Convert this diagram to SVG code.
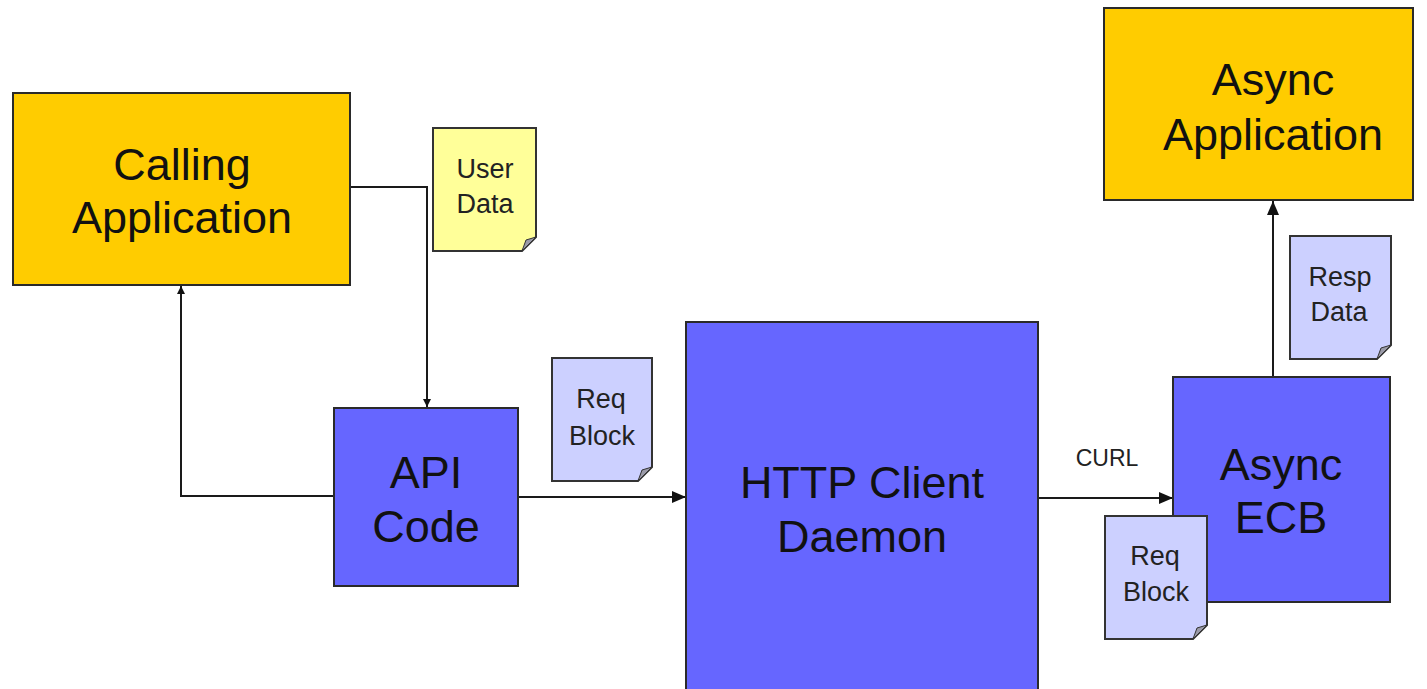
<svg xmlns="http://www.w3.org/2000/svg" width="1427" height="689" viewBox="0 0 1427 689">
<defs>
<style>
.box{stroke:#2a2a2a;stroke-width:2}
.app{fill:#FFCC00}
.blue{fill:#6666FF}
.note{stroke:#333;stroke-width:2}
.yel{fill:#FFFF99}
.lav{fill:#CCD0FF}
.fold{fill:#9a9aa8;stroke:#333;stroke-width:1}
.big{font-family:"Liberation Sans",Arial,sans-serif;font-size:45px;fill:#111;text-anchor:middle}
.small{font-family:"Liberation Sans",Arial,sans-serif;font-size:27px;fill:#222;text-anchor:middle}
.lbl{font-family:"Liberation Sans",Arial,sans-serif;font-size:23px;fill:#222;text-anchor:middle}
.conn{fill:none;stroke:#1a1a1a;stroke-width:2}
</style>
<marker id="ah" markerWidth="14" markerHeight="12" refX="14" refY="6" orient="auto" markerUnits="userSpaceOnUse">
<path d="M0,0 L14,6 L0,12 Z" fill="#111"/>
</marker>
<marker id="ahs" markerWidth="8" markerHeight="8" refX="8" refY="4" orient="auto" markerUnits="userSpaceOnUse">
<path d="M0,0 L8,4 L0,8 Z" fill="#111"/>
</marker>
</defs>
<rect width="1427" height="689" fill="#fff"/>

<g id="connectors">
<path class="conn" d="M350 187 H427 V407" marker-end="url(#ahs)"/>
<path class="conn" d="M334 496 H181 V286" marker-end="url(#ahs)"/>
<path class="conn" d="M518 497 H686" marker-end="url(#ah)"/>
<path class="conn" d="M1038 498 H1173" marker-end="url(#ah)"/>
<path class="conn" d="M1273 377 V201" marker-end="url(#ah)"/>
<text class="lbl" x="1107" y="466">CURL</text>
</g>

<g id="calling-app">
<rect class="box app" x="13" y="93" width="337" height="192"/>
<text class="big" x="182" y="180">Calling</text>
<text class="big" x="182" y="233">Application</text>
</g>

<g id="user-data">
<path class="note yel" d="M433 128 H536 V237 L522 251 H433 Z"/>
<path class="fold" d="M536 237 L522 251 L526 240 Z"/>
<text class="small" x="485" y="178">User</text>
<text class="small" x="485" y="213">Data</text>
</g>

<g id="api-code">
<rect class="box blue" x="334" y="408" width="184" height="178"/>
<text class="big" x="426" y="488">API</text>
<text class="big" x="426" y="542">Code</text>
</g>

<g id="req-block-1">
<path class="note lav" d="M552 358 H652 V467 L638 481 H552 Z"/>
<path class="fold" d="M652 467 L638 481 L642 470 Z"/>
<text class="small" x="601" y="408">Req</text>
<text class="small" x="602" y="445">Block</text>
</g>

<g id="http-client">
<rect class="box blue" x="686" y="322" width="352" height="380"/>
<text class="big" x="862" y="498">HTTP Client</text>
<text class="big" x="862" y="552">Daemon</text>
</g>

<g id="async-app">
<rect class="box app" x="1104" y="8" width="309" height="192"/>
<text class="big" x="1273" y="95">Async</text>
<text class="big" x="1273" y="150">Application</text>
</g>

<g id="async-ecb">
<rect class="box blue" x="1173" y="377" width="217" height="225"/>
<text class="big" x="1281" y="480">Async</text>
<text class="big" x="1281" y="533">ECB</text>
</g>

<g id="req-block-2">
<path class="note lav" d="M1105 516 H1207 V625 L1193 639 H1105 Z"/>
<path class="fold" d="M1207 625 L1193 639 L1197 628 Z"/>
<text class="small" x="1155" y="565">Req</text>
<text class="small" x="1156" y="601">Block</text>
</g>

<g id="resp-data">
<path class="note lav" d="M1290 236 H1391 V345 L1377 359 H1290 Z"/>
<path class="fold" d="M1391 345 L1377 359 L1381 348 Z"/>
<text class="small" x="1340" y="286">Resp</text>
<text class="small" x="1339" y="321">Data</text>
</g>
</svg>
